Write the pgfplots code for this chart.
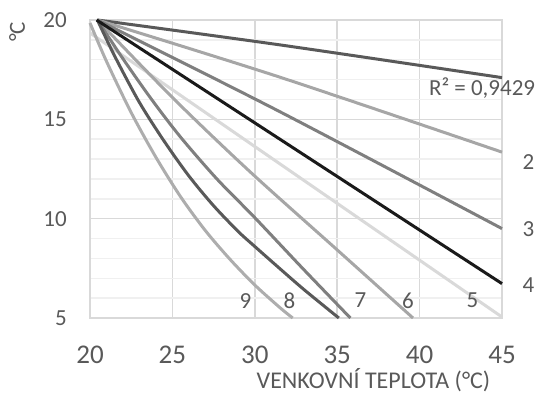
\documentclass[border=0pt]{standalone}
\usepackage{pgfplots}
\pgfplotsset{compat=1.18}
\usepackage{fontspec}
\setmainfont{Carlito}
\definecolor{txt}{HTML}{595959}
\definecolor{gmaj}{HTML}{D9D9D9}
\definecolor{gmin}{HTML}{F0F0F0}
\definecolor{c1}{HTML}{595959}
\definecolor{c2}{HTML}{A6A6A6}
\definecolor{c3}{HTML}{7F7F7F}
\definecolor{c4}{HTML}{1A1A1A}
\definecolor{c5}{HTML}{D9D9D9}
\definecolor{c9}{HTML}{ADADAD}
\tikzset{lbl/.style={font=\fontsize{23}{26}\selectfont, text=txt, inner sep=0pt, anchor=center}}
\begin{document}
\begin{tikzpicture}
\path[use as bounding box] (-90pt,-76pt) rectangle (450pt,318pt);
\begin{axis}[
  at={(0pt,0pt)}, anchor=south west,
  scale only axis, width=412pt, height=298pt,
  xmin=20, xmax=45, ymin=5, ymax=20,
  xtick={20,25,...,45}, ytick={5,10,15,20},
  minor ytick={6,7,8,9,11,12,13,14,16,17,18,19},
  grid=both,
  major grid style={gmaj, line width=1.5pt},
  minor grid style={gmin, line width=1.5pt},
  axis line style={gmaj, line width=1.5pt},
  major tick length=0pt, minor tick length=0pt,
  /pgf/number format/assume math mode=true,
  xticklabel style={font=\fontsize{27}{30}\selectfont, text=txt, anchor=center, inner sep=0pt, yshift=-37pt},
  yticklabel style={font=\fontsize{23}{26}\selectfont, text=txt, anchor=east, inner sep=0pt, xshift=-23pt},
  xlabel={VENKOVNÍ TEPLOTA (°C)},
  xlabel style={at={(rel axis cs:0.688,0)}, anchor=center, yshift=-62pt, font=\fontsize{24}{28}\selectfont, text=txt, inner sep=0pt},
  ylabel={°C},
  ylabel style={at={(rel axis cs:0,0.96)}, anchor=center, yshift=73pt, font=\fontsize{23}{26}\selectfont, text=txt, inner sep=0pt},
  clip=false,
  every axis plot/.append style={no markers, line width=3pt, line cap=butt},
]
% R^2 line
\addplot[c1, smooth] coordinates {(20.45,20) (31.5,18.75) (45,17.1)};
% 2
\addplot[c2, smooth] coordinates {(20.45,20) (31.53,17.12) (45,13.35)};
% 3
\addplot[c3, smooth] coordinates {(20.45,20) (31.53,15.38) (45,9.5)};
% 5
\addplot[c5] coordinates {(20,19.35) (45,5.05)};
% 6
\addplot[c2, smooth] coordinates {(20.45,20) (25,16.1) (29.7,12.37) (34.97,8.45) (39.6,5.0)};
% 7
\addplot[c3, smooth] coordinates {(20.45,20) (22,18.05) (23.74,16.0) (25.5,14.1) (27.7,12.0) (30,10.05) (32.9,7.5) (35.8,5.0)};
% 8
\addplot[c1, smooth] coordinates {(20.45,20) (21.5,18.18) (23,15.85) (24.5,13.9) (26,12.15) (27.5,10.65) (29,9.35) (30,8.6) (31.5,7.5) (33,6.42) (35.1,5.0)};
% 9
\addplot[c9, smooth] coordinates {(20,19.85) (21,17.92) (22.5,15.34) (24,13.09) (25.5,11.1) (27,9.4) (28.5,7.95) (30,6.66) (31.5,5.54) (32.3,5.0)};
% 4
\addplot[c4] coordinates {(20.4,20) (45,6.73)};

\node[lbl] at (axis cs:43.79,16.58) {R² = 0,9429};
\node[lbl] at (axis cs:46.61,12.83) {2};
\node[lbl] at (axis cs:46.61,9.46) {3};
\node[lbl] at (axis cs:46.61,6.64) {4};
\node[lbl] at (axis cs:43.21,5.88) {5};
\node[lbl] at (axis cs:39.30,5.88) {6};
\node[lbl] at (axis cs:36.41,5.88) {7};
\node[lbl] at (axis cs:32.10,5.88) {8};
\node[lbl] at (axis cs:29.44,5.85) {9};
\end{axis}
\end{tikzpicture}
\end{document}
